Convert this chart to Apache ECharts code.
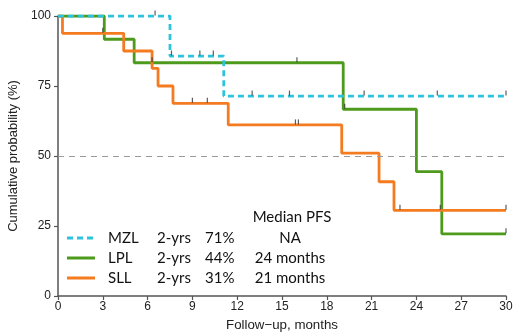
<!DOCTYPE html>
<html>
<head>
<meta charset="utf-8">
<script src="https://cdn.jsdelivr.net/npm/echarts@6/dist/echarts.min.js"></script>
<style>
html,body{margin:0;padding:0;background:#fff;}
#main{width:520px;height:336px;}
</style>
</head>
<body>
<div id="main"></div>
<script>
var myChart = echarts.init(document.getElementById('main'));

// step points [month, survival %]
var mzlSteps = [[0, 100], [7.5, 85.7], [11.1, 71.4], [30, 71.4]];
var lplSteps = [[0, 100], [3.1, 91.7], [5.1, 83.3], [19.1, 66.7], [24.0, 44.4], [25.7, 22.2], [30, 22.2]];
var sllSteps = [[0, 100], [0.3, 93.8], [4.4, 87.5], [6.3, 81.3], [6.7, 75], [7.7, 68.8], [11.4, 61.1],
                [19.0, 51.0], [21.5, 40.8], [22.5, 30.6], [30, 30.6]];

// censored observations
var mzlCens = [[6.5, 100], [7.6, 85.7], [9.5, 85.7], [10.4, 85.7], [13.0, 71.4], [15.5, 71.4], [20.5, 71.4], [25.4, 71.4], [30, 71.4]];
var lplCens = [[6.3, 83.3], [16.0, 83.3], [19.2, 66.7], [30, 22.2]];
var sllCens = [[3.0, 93.8], [9.0, 68.8], [10.0, 68.8], [15.9, 61.1], [16.1, 61.1], [22.9, 30.6], [25.6, 30.6], [30, 30.6]];

var groups = ['MZL', 'LPL', 'SLL'];
var twoYr = ['71%', '44%', '31%'];
var medianPFS = ['NA', '24 months', '21 months'];
var colors = ['#2ec3dd', '#4d9a1c', '#f47b20'];

var tickMark = {
    type: 'scatter',
    symbol: 'rect',
    symbolSize: [1.2, 5],
    symbolOffset: [0, -3],
    itemStyle: {color: '#333'},
    z: 5,
    silent: true
};

// legend / summary table
var tableFont = {fontFamily: 'Lato', fontSize: 15, fill: '#111'};
var graphics = [{
    type: 'text', x: 292, y: 217, z: 10,
    style: Object.assign({text: 'Median PFS', align: 'center', verticalAlign: 'middle'}, tableFont)
}];
groups.forEach(function (g, i) {
    var y = 238 + i * 20;
    graphics.push({
        type: 'line', z: 10,
        shape: {x1: 67, y1: y, x2: 95, y2: y},
        style: {stroke: colors[i], lineWidth: 3, lineDash: i === 0 ? [6, 4] : null}
    });
    graphics.push({type: 'text', x: 108, y: y, z: 10, style: Object.assign({text: g, verticalAlign: 'middle'}, tableFont)});
    graphics.push({type: 'text', x: 157, y: y, z: 10, style: Object.assign({text: '2-yrs', verticalAlign: 'middle'}, tableFont)});
    graphics.push({type: 'text', x: 205, y: y, z: 10, style: Object.assign({text: twoYr[i], verticalAlign: 'middle'}, tableFont)});
    graphics.push({type: 'text', x: 290, y: y, z: 10, style: Object.assign({text: medianPFS[i], align: 'center', verticalAlign: 'middle'}, tableFont)});
});

var option = {
    animation: false,
    grid: {left: 58, right: 14, top: 16, bottom: 40, outerBoundsMode: 'none', containLabel: false},
    color: colors,
    graphic: graphics,
    xAxis: {
        type: 'value',
        min: 0, max: 30, interval: 3,
        name: 'Follow\u2212up, months',
        nameLocation: 'middle',
        nameGap: 23,
        nameTextStyle: {fontFamily: 'Liberation Sans', fontSize: 13.3, color: '#222'},
        axisLine: {lineStyle: {color: '#555', width: 1.5}},
        axisTick: {length: 4, lineStyle: {color: '#555', width: 1.2}},
        axisLabel: {fontFamily: 'Liberation Sans', fontSize: 12, color: '#222', margin: 5},
        splitLine: {show: false}
    },
    yAxis: {
        type: 'value',
        min: 0, max: 100, interval: 25,
        name: 'Cumulative probability (%)',
        nameLocation: 'middle',
        nameGap: 38,
        nameTextStyle: {fontFamily: 'Liberation Sans', fontSize: 13, color: '#222'},
        axisLine: {show: true, lineStyle: {color: '#555', width: 1.5}},
        axisTick: {show: true, length: 4, lineStyle: {color: '#555', width: 1.2}},
        axisLabel: {fontFamily: 'Liberation Sans', fontSize: 12, color: '#222', margin: 7},
        splitLine: {show: false}
    },
    series: [
        {
            name: 'MZL', type: 'line', step: 'end', data: mzlSteps,
            symbol: 'none', z: 4,
            lineStyle: {width: 2.8, type: [6, 4], color: colors[0]},
            markLine: {
                silent: true, symbol: 'none', label: {show: false},
                lineStyle: {color: '#9a9a9a', type: [6, 5], width: 1.2},
                data: [{yAxis: 50}]
            }
        },
        {
            name: 'LPL', type: 'line', step: 'end', data: lplSteps,
            symbol: 'none', z: 3,
            lineStyle: {width: 2.8, color: colors[1]}
        },
        {
            name: 'SLL', type: 'line', step: 'end', data: sllSteps,
            symbol: 'none', z: 3,
            lineStyle: {width: 2.8, color: colors[2]}
        },
        Object.assign({name: 'mzlCens', data: mzlCens}, tickMark),
        Object.assign({name: 'lplCens', data: lplCens}, tickMark),
        Object.assign({name: 'sllCens', data: sllCens}, tickMark)
    ]
};

myChart.setOption(option);
</script>
</body>
</html>
